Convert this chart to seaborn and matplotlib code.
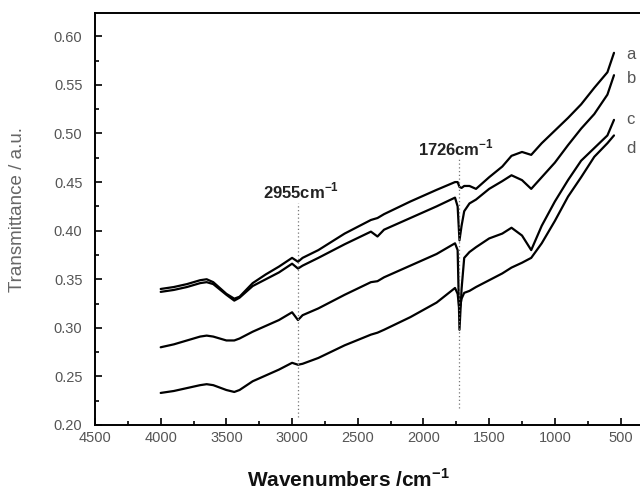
import numpy as np
import pandas as pd
import matplotlib
matplotlib.use('Agg')
import matplotlib.pyplot as plt
from matplotlib.ticker import MultipleLocator
import seaborn as sns

# wavenumber grid (cm^-1) shared by all four spectra
wavenumber = [4000, 3900, 3800, 3700, 3650, 3600, 3500, 3440, 3400, 3300, 3200, 3100,
              3000, 2955, 2920, 2800, 2600, 2400, 2350, 2300, 2100, 1900, 1760, 1740,
              1726, 1710, 1690, 1650, 1600, 1500, 1400, 1330, 1250, 1180, 1100, 1000,
              900, 800, 700, 600, 550]

spec_a = [0.340, 0.342, 0.345, 0.349, 0.350, 0.347, 0.335, 0.330, 0.332, 0.346, 0.355, 0.363,
          0.372, 0.368, 0.372, 0.380, 0.397, 0.411, 0.413, 0.417, 0.430, 0.442, 0.450, 0.450,
          0.445, 0.444, 0.446, 0.446, 0.443, 0.455, 0.466, 0.477, 0.481, 0.478, 0.490, 0.503,
          0.516, 0.530, 0.547, 0.563, 0.583]
spec_b = [0.337, 0.339, 0.342, 0.346, 0.347, 0.345, 0.334, 0.328, 0.331, 0.343, 0.350, 0.357,
          0.366, 0.361, 0.364, 0.372, 0.386, 0.399, 0.394, 0.401, 0.413, 0.425, 0.434, 0.425,
          0.390, 0.405, 0.420, 0.428, 0.432, 0.443, 0.451, 0.457, 0.452, 0.443, 0.455, 0.470,
          0.488, 0.505, 0.520, 0.540, 0.560]
spec_c = [0.280, 0.283, 0.287, 0.291, 0.292, 0.291, 0.287, 0.287, 0.289, 0.296, 0.302, 0.308,
          0.316, 0.308, 0.313, 0.320, 0.334, 0.347, 0.348, 0.352, 0.364, 0.376, 0.387, 0.380,
          0.298, 0.340, 0.372, 0.378, 0.383, 0.392, 0.397, 0.403, 0.395, 0.380, 0.405, 0.430,
          0.452, 0.472, 0.485, 0.498, 0.514]
spec_d = [0.233, 0.235, 0.238, 0.241, 0.242, 0.241, 0.236, 0.234, 0.236, 0.245, 0.251, 0.257,
          0.264, 0.262, 0.263, 0.269, 0.282, 0.293, 0.295, 0.298, 0.311, 0.326, 0.341, 0.335,
          0.318, 0.330, 0.336, 0.338, 0.342, 0.349, 0.356, 0.362, 0.367, 0.372, 0.387, 0.410,
          0.435, 0.455, 0.476, 0.490, 0.498]

curve_names = ['a', 'b', 'c', 'd']
label_y = [0.581, 0.557, 0.514, 0.485]

df = pd.concat([pd.DataFrame({'wn': wavenumber, 'T': vals, 'sample': name})
                for name, vals in zip(curve_names, [spec_a, spec_b, spec_c, spec_d])])

sns.set_style('ticks')
plt.rcParams['font.family'] = ['Liberation Sans', 'DejaVu Sans']

fig = plt.figure(figsize=(6.4, 4.95), dpi=100)
ax = fig.add_axes([95 / 640, 70 / 495, 545 / 640, 412 / 495])

sns.lineplot(data=df, x='wn', y='T', hue='sample', units='sample', estimator=None,
             palette=['black'] * 4, linewidth=1.6, legend=False, ax=ax, sort=False)

ax.set_xlim(4500, 352)
ax.set_ylim(0.20, 0.624)
ax.xaxis.set_major_locator(MultipleLocator(500))
ax.xaxis.set_minor_locator(MultipleLocator(250))
ax.yaxis.set_major_locator(MultipleLocator(0.05))
ax.yaxis.set_minor_locator(MultipleLocator(0.025))
ax.yaxis.set_major_formatter(matplotlib.ticker.FormatStrFormatter('%.2f'))
ax.tick_params(which='both', direction='in', width=1.2, colors='black',
               labelcolor='#555555', labelsize=10.5)
ax.tick_params(which='major', length=5)
ax.tick_params(which='minor', length=3)
ax.tick_params(axis='y', pad=9)
ax.tick_params(axis='x', pad=4)
for side in ['left', 'bottom', 'top']:
    ax.spines[side].set_linewidth(1.4)
    ax.spines[side].set_color('black')
ax.spines['right'].set_visible(False)

# peak markers
ax.vlines(2955, 0.208, 0.428, colors='#777777', linestyles=(0, (1, 2)), linewidth=0.9)
ax.vlines(1726, 0.218, 0.476, colors='#777777', linestyles=(0, (1, 2)), linewidth=0.9)
ax.text(2935, 0.441, r'2955cm$^{\mathregular{-1}}$', ha='center', va='center',
        fontsize=12, fontweight='bold', color='#222222')
ax.text(1755, 0.485, r'1726cm$^{\mathregular{-1}}$', ha='center', va='center',
        fontsize=12, fontweight='bold', color='#222222')

for name, yv in zip(curve_names, label_y):
    ax.text(455, yv, name, ha='left', va='center', fontsize=12, color='#555555')

ax.set_xlabel(r'Wavenumbers /cm$^{\mathregular{-1}}$', fontsize=15, fontweight='bold',
              color='#111111')
ax.xaxis.set_label_coords((348 - 95) / 545, -(468 - 425) / 412)
ax.set_ylabel('Transmittance / a.u.', fontsize=13.5, color='#666666')
ax.yaxis.set_label_coords(-(95 - 26) / 545, 0.522)

fig.savefig('out.png', dpi=100)
